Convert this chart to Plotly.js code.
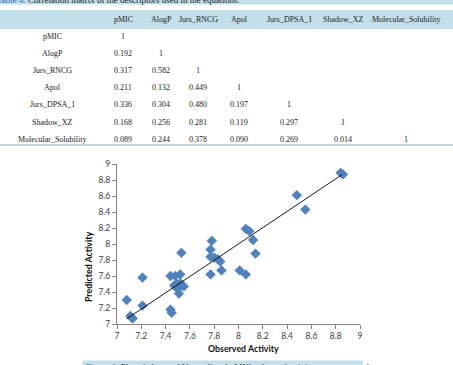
<!DOCTYPE html>
<html>
<head>
<meta charset="utf-8">
<script src="https://cdn.plot.ly/plotly-3.0.1.min.js"></script>
<style>html,body{margin:0;padding:0;background:#fff;}#chart{width:453px;height:365px;}</style>
</head>
<body>
<div id="chart"></div>
<script>
// ---- Table data ----
const descriptors = ["pMIC", "AlogP", "Jurs_RNCG", "Apol", "Jurs_DPSA_1", "Shadow_XZ", "Molecular_Solubility"];
const corr_pMIC = ["1"];
const corr_AlogP = ["0.192", "1"];
const corr_Jurs_RNCG = ["0.317", "0.582", "1"];
const corr_Apol = ["0.211", "0.132", "0.449", "1"];
const corr_Jurs_DPSA_1 = ["0.336", "0.304", "0.480", "0.197", "1"];
const corr_Shadow_XZ = ["0.168", "0.256", "0.281", "0.119", "0.297", "1"];
const corr_Molecular_Solubility = ["0.089", "0.244", "0.378", "0.090", "0.269", "0.014", "1"];
const corrRows = [corr_pMIC, corr_AlogP, corr_Jurs_RNCG, corr_Apol, corr_Jurs_DPSA_1, corr_Shadow_XZ, corr_Molecular_Solubility];
const tableTitle = "Correlation matrix of the descriptors used in the equations.";
const captionText = "Plot of observed Vs predicted pMIC values of training set compounds.";

// ---- Scatter data ----
const observed = [7.08, 7.11, 7.12, 7.13, 7.21, 7.21, 7.44, 7.45, 7.44, 7.48, 7.52, 7.53, 7.47, 7.49, 7.50, 7.51, 7.52, 7.53, 7.55, 7.77, 7.78, 7.77, 7.80, 7.83, 7.85, 7.77, 7.86, 8.01, 8.06, 8.06, 8.09, 8.12, 8.14, 8.48, 8.55, 8.84, 8.86];
const predicted = [7.30, 7.10, 7.08, 7.07, 7.58, 7.23, 7.18, 7.14, 7.60, 7.60, 7.62, 7.89, 7.48, 7.50, 7.44, 7.38, 7.51, 7.49, 7.47, 7.93, 8.04, 7.84, 7.83, 7.81, 7.78, 7.62, 7.67, 7.67, 7.62, 8.19, 8.16, 8.05, 7.88, 8.61, 8.43, 8.89, 8.87];
const trendX = [7.08, 8.85];
const trendY = [7.065, 8.865];

// ---- layout geometry ----
const W = 453, H = 365;
const mL = 117, mR = 93, mT = 164, mB = 41;
const pw = W - mL - mR, ph = H - mT - mB;
const X = px => (px - mL) / pw;
const Y = py => (H - mB - py) / ph;

const colX = [52, 123, 161, 198, 239, 289, 343, 406];
const headerY = 19.5;
const rowY0 = 36.3, rowStep = 17.15;
const serif = "'Liberation Serif', 'Times New Roman', serif";
const sans = "Lato, 'Open Sans', sans-serif";
const blue = "#c3dfea";

const annotations = [];
const shapes = [];

// Title band (cut off at the top edge, as in the reference)
shapes.push({type: "rect", xref: "paper", yref: "paper", x0: X(0), x1: X(W), y0: Y(4.5), y1: Y(-6), fillcolor: blue, line: {width: 0}, layer: "below"});
annotations.push({xref: "paper", yref: "paper", x: X(-5), y: Y(0), xanchor: "left", yanchor: "middle", showarrow: false,
  text: "<span style='color:#2a6db0'>Table 4.</span> " + tableTitle, font: {family: serif, size: 9, color: "#222"}});
// Header band
shapes.push({type: "rect", xref: "paper", yref: "paper", x0: X(0), x1: X(W), y0: Y(29), y1: Y(10), fillcolor: blue, line: {width: 0}, layer: "below"});
descriptors.forEach((d, i) => {
  annotations.push({xref: "paper", yref: "paper", x: X(colX[i + 1]), y: Y(headerY), xanchor: "center", yanchor: "middle", showarrow: false,
    text: d, font: {family: serif, size: 8, color: "#222"}});
});
// Rows
descriptors.forEach((d, r) => {
  const yy = rowY0 + r * rowStep;
  annotations.push({xref: "paper", yref: "paper", x: X(colX[0]), y: Y(yy), xanchor: "center", yanchor: "middle", showarrow: false,
    text: d, font: {family: serif, size: 8, color: "#222"}});
  corrRows[r].forEach((v, c) => {
    annotations.push({xref: "paper", yref: "paper", x: X(colX[c + 1]), y: Y(yy), xanchor: "center", yanchor: "middle", showarrow: false,
      text: v, font: {family: serif, size: 8, color: "#222"}});
  });
});
// bottom rule
shapes.push({type: "line", xref: "paper", yref: "paper", x0: X(0), x1: X(W), y0: Y(145), y1: Y(145), line: {color: "#8aa6bd", width: 1}});

// Caption band (cut off at the bottom edge, as in the reference)
shapes.push({type: "rect", xref: "paper", yref: "paper", x0: X(82.5), x1: X(363), y0: Y(372), y1: Y(360.5), fillcolor: blue, line: {width: 0}, layer: "below"});
annotations.push({xref: "paper", yref: "paper", x: X(84), y: Y(367), xanchor: "left", yanchor: "middle", showarrow: false,
  text: "<span style='color:#2a6db0'>Figure 1.</span> " + captionText, font: {family: serif, size: 9, color: "#222"}});

// axis titles
annotations.push({xref: "paper", yref: "paper", x: X(243.5), y: Y(348.5), xanchor: "center", yanchor: "middle", showarrow: false,
  text: "<b>Observed Activity</b>", font: {family: sans, size: 8.8, color: "#111"}});
annotations.push({xref: "paper", yref: "paper", x: X(88), y: Y(267), xanchor: "center", yanchor: "middle", showarrow: false, textangle: -90,
  text: "<b>Predicted Activity</b>", font: {family: sans, size: 8.8, color: "#111"}});

const traces = [
  {x: observed, y: predicted, type: "scatter", mode: "markers", cliponaxis: false,
   marker: {symbol: "diamond", size: 7.5, color: "#4f81bd", line: {color: "#4a7ab5", width: 0.5}}, hoverinfo: "none"},
  {x: trendX, y: trendY, type: "scatter", mode: "lines", line: {color: "#000", width: 0.9}, hoverinfo: "none"}
];

const axisCommon = {range: [7, 9], dtick: 0.2, tick0: 7, ticks: "outside", ticklen: 4, tickwidth: 1, tickcolor: "#868686",
  showline: true, linecolor: "#868686", linewidth: 1, showgrid: false, zeroline: false,
  tickfont: {family: sans, size: 8.5, color: "#404040"}, fixedrange: true};

const layout = {
  width: W, height: H,
  margin: {l: mL, r: mR, t: mT, b: mB, pad: 0},
  paper_bgcolor: "#fff", plot_bgcolor: "#fff",
  showlegend: false,
  xaxis: Object.assign({}, axisCommon),
  yaxis: Object.assign({}, axisCommon),
  shapes: shapes,
  annotations: annotations
};

Plotly.newPlot("chart", traces, layout, {staticPlot: true, displayModeBar: false});
</script>
</body>
</html>
